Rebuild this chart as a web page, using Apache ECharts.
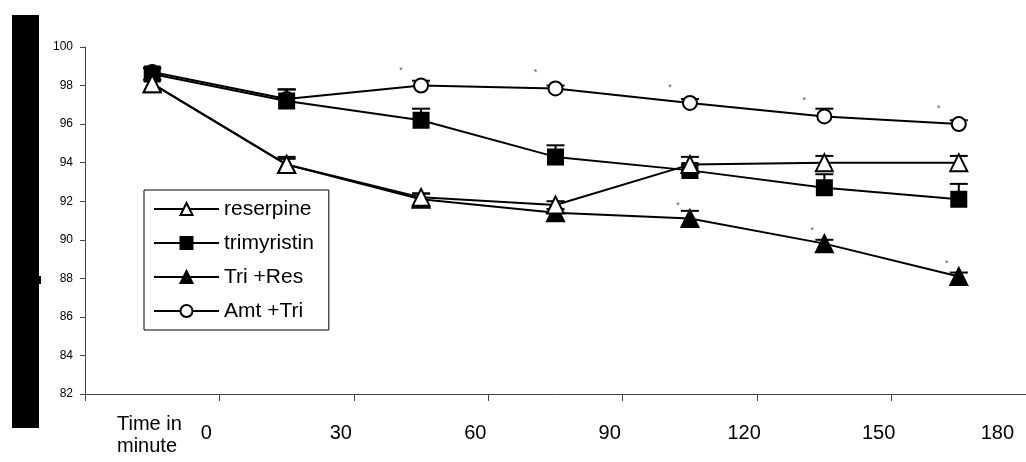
<!DOCTYPE html>
<html>
<head>
<meta charset="utf-8">
<script src="https://cdn.jsdelivr.net/npm/echarts@6/dist/echarts.min.js"></script>
<style>
html,body{margin:0;padding:0;background:#fff;}
#chart{width:1026px;height:462px;}
</style>
</head>
<body>
<div id="chart"></div>
<script>
// ---- data ----
var categories = ["0", "30", "60", "90", "120", "150", "180"];
var timeTicks = [-30, 0, 30, 60, 90, 120, 150, 180];
var yTicks = [82, 84, 86, 88, 90, 92, 94, 96, 98, 100];

var reserpine   = [98.1, 93.9, 92.2, 91.8, 93.9, 94.0, 94.0];
var trimyristin = [98.6, 97.2, 96.2, 94.3, 93.6, 92.7, 92.1];
var triRes      = [98.1, 93.9, 92.1, 91.4, 91.1, 89.8, 88.1];
var amtTri      = [98.7, 97.3, 98.0, 97.85, 97.1, 96.4, 96.0];

var reserpineErr   = [0.2, 0.3, 0.2, 0.2, 0.4, 0.35, 0.35];
var trimyristinErr = [0.3, 0.6, 0.6, 0.6, 0.3, 0.7, 0.8];
var triResErr      = [0.2, 0.4, 0.3, 0.2, 0.4, 0.2, 0.2];
var amtTriErr      = [0.2, 0.5, 0.25, 0.15, 0.2, 0.4, 0.2];

var amtTriSig = [0, 0, 1, 1, 1, 1, 1];
var triResSig = [0, 0, 0, 0, 1, 1, 1];

// ---- build ----
var chart = echarts.init(document.getElementById('chart'), null, {renderer: 'canvas'});
var FONT = 'Liberation Sans, Arial, sans-serif';

function withSig(vals, sig, offset) {
  return vals.map(function (v, i) {
    if (!sig[i]) return v;
    return {
      value: v,
      label: {
        show: true, formatter: '*', position: 'top', offset: offset,
        fontSize: 9, color: '#555', fontFamily: FONT
      }
    };
  });
}

function lineSeries(name, vals, symbol, filled, size) {
  return {
    name: name, type: 'line', xAxisIndex: 0, yAxisIndex: 0,
    data: vals, symbol: symbol, symbolSize: size, showAllSymbol: true,
    lineStyle: {color: '#000', width: 2},
    itemStyle: {color: filled ? '#000' : '#fff', borderColor: '#000', borderWidth: 2},
    emphasis: {disabled: true},
    z: 3, animation: false
  };
}

function errSeries(vals, errs) {
  return {
    type: 'custom', xAxisIndex: 0, yAxisIndex: 0, silent: true, z: 2,
    data: vals.map(function (v, i) { return [i, v, errs[i]]; }),
    renderItem: function (params, api) {
      var x = api.value(0), y = api.value(1), e = api.value(2);
      var p0 = api.coord([x, y]);
      var p1 = api.coord([x, y + e]);
      var st = {stroke: '#000', lineWidth: 2};
      return {
        type: 'group',
        children: [
          {type: 'line', shape: {x1: p0[0], y1: p0[1], x2: p1[0], y2: p1[1]}, style: st},
          {type: 'line', shape: {x1: p1[0] - 9, y1: p1[1], x2: p1[0] + 9, y2: p1[1]}, style: st}
        ]
      };
    },
    animation: false
  };
}

var labelRich = {
  a: {fontSize: 20, fontFamily: FONT, color: '#000', padding: [0, 26, 0, 0]},
  b: {fontSize: 20, fontFamily: FONT, color: '#000', padding: [0, 12, 0, 0]}
};

var option = {
  animation: false,
  backgroundColor: '#fff',
  textStyle: {fontFamily: FONT},
  grid: {left: 85, right: -5, top: 47, bottom: 68, containLabel: false},
  legend: {
    orient: 'vertical', left: 144, top: 190,
    padding: [7, 15, 7, 9],
    itemWidth: 65, itemHeight: 15, itemGap: 10,
    borderColor: '#000', borderWidth: 1, backgroundColor: '#fff',
    textStyle: {fontSize: 21, color: '#000', fontFamily: FONT, lineHeight: 24},
    data: ['reserpine', 'trimyristin', 'Tri +Res', 'Amt +Tri'],
    selectedMode: false
  },
  xAxis: [
    {
      type: 'category', data: categories, boundaryGap: true, position: 'bottom',
      axisLine: {show: true, onZero: false, lineStyle: {color: '#444', width: 1}},
      axisTick: {show: true, length: 7, lineStyle: {color: '#444'}},
      axisLabel: {show: false},
      splitLine: {show: false}
    },
    {
      type: 'value', min: timeTicks[0], max: timeTicks[timeTicks.length - 1], interval: 30,
      position: 'bottom',
      axisLine: {show: false, onZero: false}, axisTick: {show: false}, splitLine: {show: false},
      axisLabel: {
        show: true, margin: 29, fontSize: 20, color: '#000', fontFamily: FONT,
        showMaxLabel: true, showMinLabel: true, alignMaxLabel: 'right',
        rich: labelRich,
        formatter: function (v) {
          if (v < 0) return '';
          return (v === timeTicks[timeTicks.length - 1] ? '{b|' : '{a|') + v + '}';
        }
      }
    }
  ],
  yAxis: {
    type: 'value', min: yTicks[0], max: yTicks[yTicks.length - 1], interval: 2,
    axisLine: {show: true, onZero: false, lineStyle: {color: '#444', width: 1}},
    axisTick: {show: true, length: 5, lineStyle: {color: '#444'}},
    axisLabel: {fontSize: 12, color: '#000', margin: 12, fontFamily: FONT},
    splitLine: {show: false}
  },
  graphic: [
    {type: 'rect', left: 12, top: 15, shape: {width: 27, height: 413}, style: {fill: '#000'}, z: 10},
    {type: 'rect', left: 38, top: 276, shape: {width: 3, height: 8}, style: {fill: '#000'}, z: 10},
    {type: 'text', left: 117, top: 413, style: {text: 'Time in\nminute', fontSize: 20, fontFamily: FONT, fill: '#000', align: 'center', lineHeight: 22}, z: 10}
  ],
  series: [
    errSeries(reserpine, reserpineErr),
    errSeries(trimyristin, trimyristinErr),
    errSeries(triRes, triResErr),
    errSeries(amtTri, amtTriErr),
    lineSeries('Amt +Tri', withSig(amtTri, amtTriSig, [-20, 2]), 'circle', false, 14),
    lineSeries('Tri +Res', withSig(triRes, triResSig, [-12, 6]), 'triangle', true, 17),
    lineSeries('trimyristin', trimyristin, 'rect', true, 15),
    lineSeries('reserpine', reserpine, 'triangle', false, 17)
  ]
};
chart.setOption(option);
</script>
</body>
</html>
